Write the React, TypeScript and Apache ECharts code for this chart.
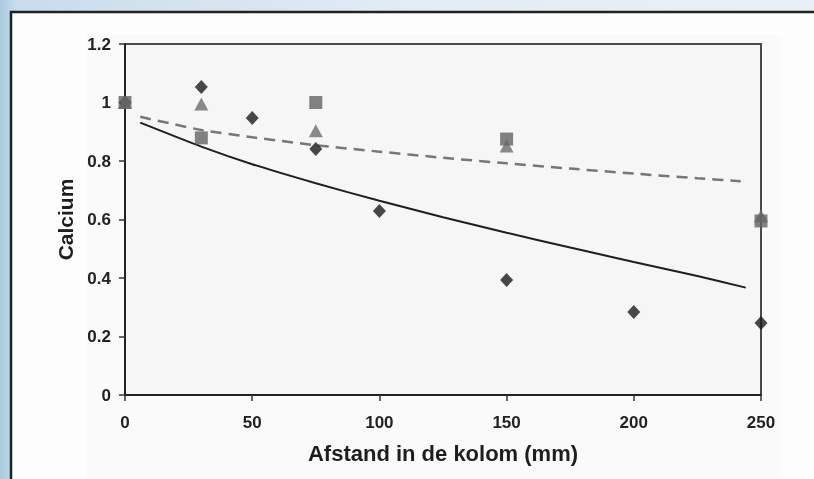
import React, { useEffect, useRef } from "react";
import * as echarts from "echarts";

// Measured points (distance in mm, relative calcium)
const diamondX = [0, 30, 50, 75, 100, 150, 200, 250];
const diamondY = [1.0, 1.053, 0.947, 0.841, 0.629, 0.393, 0.284, 0.246];

const triangleX = [0, 30, 75, 150, 250];
const triangleY = [1.0, 0.995, 0.903, 0.851, 0.612];

const squareX = [0, 30, 75, 150, 250];
const squareY = [1.0, 0.879, 1.0, 0.875, 0.595];

// Trend lines
const solidTrendX = [6, 30, 50, 75, 100, 125, 150, 175, 200, 225, 244];
const solidTrendY = [0.931, 0.849, 0.789, 0.724, 0.664, 0.608, 0.555, 0.504, 0.455, 0.407, 0.367];

const dashedTrendX = [6, 30, 50, 75, 100, 125, 150, 175, 200, 225, 242];
const dashedTrendY = [0.951, 0.906, 0.881, 0.854, 0.832, 0.811, 0.792, 0.774, 0.757, 0.741, 0.731];

const xTicks = { min: 0, max: 250, interval: 50 };
const yTicks = { min: 0, max: 1.2, interval: 0.2 };

const xTitle = "Afstand in de kolom (mm)";
const yTitle = "Calcium";

const pairs = (xs: number[], ys: number[]) => xs.map((x, i) => [x, ys[i]]);

export default function App() {
  const ref = useRef<HTMLDivElement>(null);

  useEffect(() => {
    if (!ref.current) return;
    const chart = echarts.init(ref.current, undefined, { renderer: "svg" });
    const font = "Liberation Sans, Arial, sans-serif";
    chart.setOption({
      animation: false,
      backgroundColor: "transparent",
      graphic: [
        {
          type: "rect",
          silent: true,
          z: -10,
          shape: { x: 0, y: 0, width: 814, height: 479 },
          style: {
            fill: new echarts.graphic.LinearGradient(0, 0, 1, 0, [
              { offset: 0, color: "#a9c9de" },
              { offset: 0.02, color: "#c9dceb" },
              { offset: 0.5, color: "#e2ecf4" },
              { offset: 1, color: "#e8f0f6" },
            ]),
          },
        },
        {
          type: "rect",
          silent: true,
          z: -9,
          shape: { x: 11, y: 12, width: 820, height: 480 },
          style: { fill: "#fdfdfd", stroke: "#222222", lineWidth: 2.5 },
        },
        {
          type: "rect",
          silent: true,
          z: -8,
          shape: { x: 86, y: 34, width: 694, height: 445 },
          style: { fill: "#fafafa" },
        },
      ],
      grid: {
        left: 125,
        right: 53,
        top: 44,
        bottom: 84,
        show: true,
        backgroundColor: "#f6f6f6",
        borderColor: "#4a4a4a",
        borderWidth: 2,
      },
      xAxis: {
        type: "value",
        min: xTicks.min,
        max: xTicks.max,
        interval: xTicks.interval,
        name: xTitle,
        nameLocation: "middle",
        nameGap: 47,
        nameTextStyle: { fontFamily: font, fontWeight: "bold", fontSize: 22, color: "#1e1e1e" },
        axisLine: { show: true, lineStyle: { color: "#222", width: 2 } },
        axisTick: { show: true, inside: false, length: 6, lineStyle: { color: "#333", width: 1.5 } },
        axisLabel: { margin: 19, fontFamily: font, fontWeight: "bold", fontSize: 17, color: "#222" },
        splitLine: { show: false },
      },
      yAxis: {
        type: "value",
        min: yTicks.min,
        max: yTicks.max,
        interval: yTicks.interval,
        name: yTitle,
        nameLocation: "middle",
        nameGap: 49,
        nameRotate: 90,
        nameTextStyle: { fontFamily: font, fontWeight: "bold", fontSize: 21, color: "#1e1e1e" },
        axisLine: { show: true, lineStyle: { color: "#222", width: 2 } },
        axisTick: { show: true, inside: false, length: 6, lineStyle: { color: "#333", width: 1.5 } },
        axisLabel: { margin: 14, fontFamily: font, fontWeight: "bold", fontSize: 17, color: "#222" },
        splitLine: { show: false },
      },
      series: [
        {
          type: "line",
          data: pairs(dashedTrendX, dashedTrendY),
          smooth: 0.2,
          showSymbol: false,
          symbol: "none",
          lineStyle: { color: "#777777", width: 2.5, type: [11, 7] },
          z: 2,
        },
        {
          type: "line",
          data: pairs(solidTrendX, solidTrendY),
          smooth: 0.2,
          showSymbol: false,
          symbol: "none",
          lineStyle: { color: "#1e1e1e", width: 2 },
          z: 2,
        },
        {
          type: "scatter",
          data: pairs(diamondX, diamondY),
          symbol: "diamond",
          symbolSize: [13, 14],
          itemStyle: { color: "#1c1c1c" },
          z: 3,
        },
        {
          type: "scatter",
          data: pairs(triangleX, triangleY),
          symbol: "triangle",
          symbolSize: [14, 13],
          itemStyle: { color: "#6e6e6e" },
          z: 4,
        },
        {
          type: "scatter",
          data: pairs(squareX, squareY),
          symbol: "rect",
          symbolSize: 13,
          itemStyle: { color: "#646464" },
          z: 5,
        },
      ],
    });
    return () => chart.dispose();
  }, []);

  return (
    <div
      ref={ref}
      style={{ position: "fixed", left: 0, top: 0, width: 814, height: 479 }}
    />
  );
}
